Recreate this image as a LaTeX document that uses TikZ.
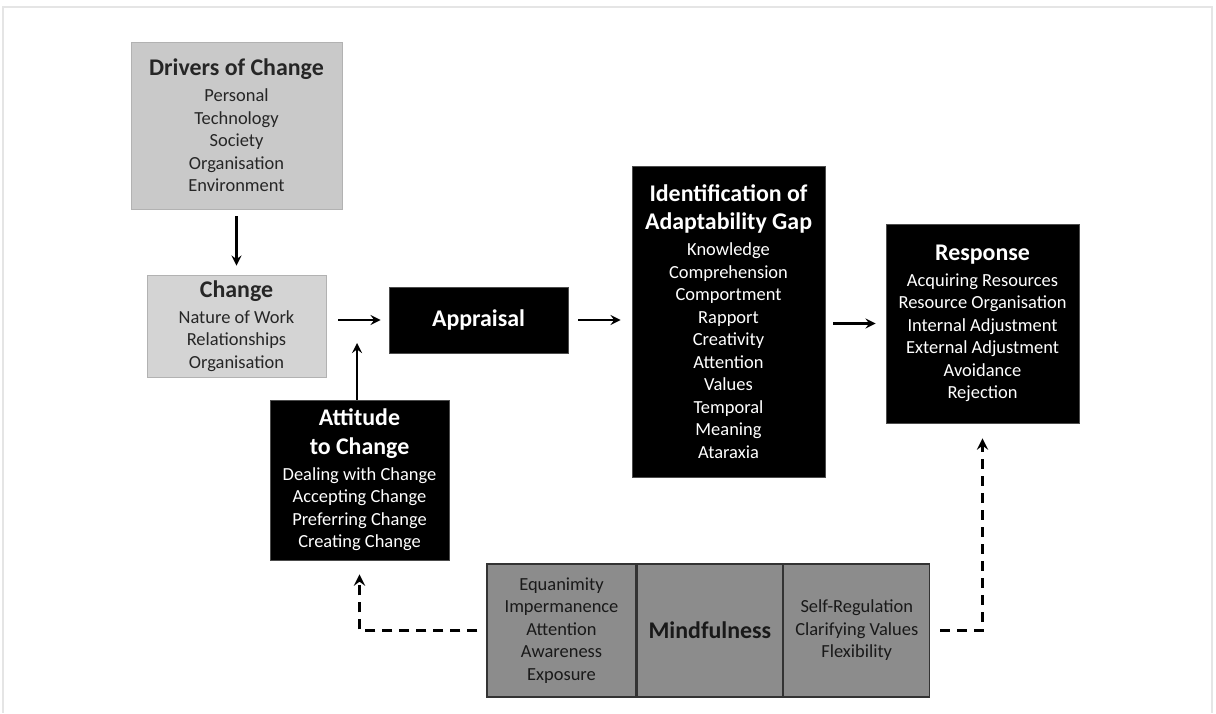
\documentclass[tikz,border=0pt]{standalone}
\usepackage{fontspec}
\setmainfont{Carlito}
\usetikzlibrary{positioning}
\newcommand\boxtitle[1]{{\fontsize{13.6}{15}\selectfont\bfseries #1}}
\begin{document}
\begin{tikzpicture}[x=0.02cm, y=-0.02cm, >=stealth, line width=1.5pt,
  font=\fontsize{10.5}{12.8}\selectfont,
  lightbox/.style={draw=black!30, line width=0.5pt, fill=black!21, text=black!85, align=center, inner sep=0pt},
  darkbox/.style={draw=black!70, line width=0.5pt, fill=black, text=white, align=center, inner sep=0pt},
  midbox/.style={draw=black!80, line width=0.8pt, fill=black!45, text=black!90, align=center, inner sep=0pt, minimum height=2.66cm},
  dashlink/.style={->, line width=1.8pt, dash pattern=on 0.2cm off 0.14cm}]
  \useasboundingbox (0,0) rectangle (1216,713);
  \draw[black!10, line width=0.6pt] (3,713) -- (3,7) -- (1212,7) -- (1212,713);

  \node[lightbox, minimum width=4.22cm, minimum height=3.34cm] (drivers) at (236.5,125.5)
    {\boxtitle{Drivers of Change}\\[2pt] Personal\\ Technology\\ Society\\ Organisation\\ Environment};
  \node[lightbox, fill=black!17, minimum width=3.58cm, minimum height=2.04cm] (change) at (236.5,326)
    {\boxtitle{Change}\\[2pt] Nature of Work\\ Relationships\\ Organisation};
  \node[darkbox, minimum width=3.58cm, minimum height=1.32cm] (appr) at (478.5,320) {\boxtitle{Appraisal}};
  \node[darkbox, minimum width=3.58cm, minimum height=3.2cm] (att) at (359.5,480)
    {\boxtitle{Attitude}\\[3.5pt] \boxtitle{to Change}\\[2pt] Dealing with Change\\ Accepting Change\\ Preferring Change\\ Creating Change};
  \node[darkbox, minimum width=3.86cm, minimum height=6.22cm] (ident) at (728.5,321.5)
    {\boxtitle{Identification of}\\[3.5pt] \boxtitle{Adaptability Gap}\\[2pt] Knowledge\\ Comprehension\\ Comportment\\ Rapport\\ Creativity\\ Attention\\ Values\\ Temporal\\ Meaning\\ Ataraxia};
  \node[darkbox, minimum width=3.86cm, minimum height=3.98cm] (resp) at (982.5,323.5)
    {\boxtitle{Response}\\[2pt] Acquiring Resources\\ Resource Organisation\\ Internal Adjustment\\ External Adjustment\\ Avoidance\\ Rejection};

  % mindfulness bar
  \node[midbox, minimum width=2.98cm] (mindL) at (561.5,630.5)
    {Equanimity\\ Impermanence\\ Attention\\ Awareness\\ Exposure};
  \node[midbox, minimum width=2.9cm, right=0pt of mindL] (mindC) {\boxtitle{Mindfulness}};
  \node[midbox, minimum width=2.92cm, right=0pt of mindC] (mindR)
    {Self-Regulation\\ Clarifying Values\\ Flexibility};

  \coordinate (attin) at (357,343);
  \draw[->, shorten <=0.14cm, shorten >=0.18cm] (drivers) -- (change);
  \draw[->, shorten <=0.24cm, shorten >=0.16cm] (change.east |- appr.west) -- (appr.west);
  \draw[->] (attin |- att.north) -- (attin);
  \draw[->, shorten <=0.2cm, shorten >=0.22cm] (appr.east) -- (ident.west |- appr.east);
  \draw[->, shorten <=0.16cm, shorten >=0.2cm] (ident.east |- resp.west) -- (resp.west);
  \draw[dashlink, shorten <=0.18cm, shorten >=0.28cm] (mindL.west) -| (att.south);
  \draw[dashlink, shorten <=0.2cm, shorten >=0.3cm] (mindR.east) -| (resp.south);
\end{tikzpicture}
\end{document}
